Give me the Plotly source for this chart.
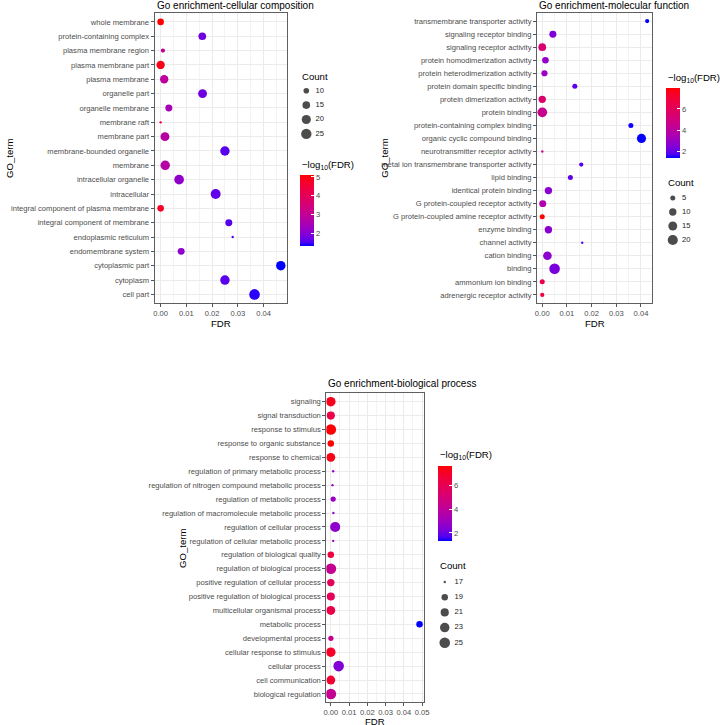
import numpy as np
import plotly.graph_objects as go

# ---------------- DATA ----------------
cats1 = ["whole membrane", "protein-containing complex", "plasma membrane region", "plasma membrane part",
         "plasma membrane", "organelle part", "organelle membrane", "membrane raft", "membrane part",
         "membrane-bounded organelle", "membrane", "intracellular organelle", "intracellular",
         "integral component of plasma membrane", "integral component of membrane", "endoplasmic reticulum",
         "endomembrane system", "cytoplasmic part", "cytoplasm", "cell part"]
fdr1 = [8e-6, 0.0162, 0.0009, 1.2e-5, 0.0014, 0.0163, 0.0032, 3e-5, 0.0017, 0.025, 0.0018, 0.0072,
        0.0214, 1.6e-5, 0.0265, 0.028, 0.008, 0.0467, 0.025, 0.0365]
count1 = [12, 15, 8, 17, 17, 19, 13, 7, 19, 21, 21, 22, 23, 12, 13, 7, 13, 21, 21, 26]

cats2 = ["transmembrane transporter activity", "signaling receptor binding", "signaling receptor activity",
         "protein homodimerization activity", "protein heterodimerization activity",
         "protein domain specific binding", "protein dimerization activity", "protein binding",
         "protein-containing complex binding", "organic cyclic compound binding",
         "neurotransmitter receptor activity", "metal ion transmembrane transporter activity", "lipid binding",
         "identical protein binding", "G protein-coupled receptor activity",
         "G protein-coupled amine receptor activity", "enzyme binding", "channel activity", "cation binding",
         "binding", "ammonium ion binding", "adrenergic receptor activity"]
fdr2 = [0.0425, 0.0043, 5e-6, 0.0013, 0.0009, 0.0132, 3e-6, 3e-5, 0.0359, 0.0402, 3e-5, 0.0158, 0.0114,
        0.0025, 2e-4, 1.2e-8, 0.0025, 0.0162, 0.0021, 0.005, 5e-7, 1.5e-7]
count2 = [4, 9, 11, 8, 7, 5, 10, 18, 5, 16, 3, 4, 5, 10, 9, 5, 10, 3, 14, 22, 5, 4]

cats3 = ["signaling", "signal transduction", "response to stimulus", "response to organic substance",
         "response to chemical", "regulation of primary metabolic process",
         "regulation of nitrogen compound metabolic process", "regulation of metabolic process",
         "regulation of macromolecule metabolic process", "regulation of cellular process",
         "regulation of cellular metabolic process", "regulation of biological quality",
         "regulation of biological process", "positive regulation of cellular process",
         "positive regulation of biological process", "multicellular organismal process", "metabolic process",
         "developmental process", "cellular response to stimulus", "cellular process", "cell communication",
         "biological regulation"]
fdr3 = [5e-8, 5e-7, 2.5e-8, 2.2e-8, 4e-8, 0.0013, 0.0009, 0.0013, 0.0014, 0.0024, 0.0013, 3e-7, 5e-5,
        1.5e-6, 1.5e-6, 5e-7, 0.0486, 5e-5, 1e-7, 0.0043, 1.5e-7, 6e-5]
count3 = [23, 21, 25, 19, 22, 17, 17, 18, 17, 24, 17, 19, 25, 20, 21, 22, 19, 18, 23, 25, 22, 25]

titles = ["Go enrichment-cellular composition", "Go enrichment-molecular function",
          "Go enrichment-biological process"]
xticks1 = [0, 0.01, 0.02, 0.03, 0.04]
xticks2 = [0, 0.01, 0.02, 0.03, 0.04]
xticks3 = [0, 0.01, 0.02, 0.03, 0.04, 0.05]
cbticks1 = [2, 3, 4, 5]
cbticks2 = [2, 4, 6]
cbticks3 = [2, 4, 6]
breaks1 = [10, 15, 20, 25]
breaks2 = [5, 10, 15, 20]
breaks3 = [17, 19, 21, 23, 25]

# ---------------- STYLE HELPERS ----------------
W, H = 720, 725
FONT = "Liberation Sans, Arial, sans-serif"
TICK_SIZE = 7.6
TITLE_SIZE = 9.6


def px(x):
    return x / W


def py(y):
    return 1 - y / H


# Lab interpolation between blue and red (like ggplot's scale_colour_gradient)
_M = np.array([[0.4124564, 0.3575761, 0.1804375],
               [0.2126729, 0.7151522, 0.0721750],
               [0.0193339, 0.1191920, 0.9503041]])
_Minv = np.linalg.inv(_M)
_WHITE = np.array([0.95047, 1.0, 1.08883])


def _to_lab(hexc):
    rgb = np.array([int(hexc[i:i + 2], 16) / 255 for i in (1, 3, 5)])
    lin = np.where(rgb <= 0.04045, rgb / 12.92, ((rgb + 0.055) / 1.055) ** 2.4)
    xyz = _M @ lin / _WHITE
    d = 6 / 29
    f = np.where(xyz > d ** 3, np.cbrt(xyz), xyz / (3 * d * d) + 4 / 29)
    return np.array([116 * f[1] - 16, 500 * (f[0] - f[1]), 200 * (f[1] - f[2])])


def _from_lab(lab):
    L, a, b = lab
    fy = (L + 16) / 116
    fx = fy + a / 500
    fz = fy - b / 200
    d = 6 / 29
    f = np.array([fx, fy, fz])
    xyz = np.where(f > d, f ** 3, 3 * d * d * (f - 4 / 29)) * _WHITE
    lin = _Minv @ xyz
    lin = np.clip(lin, 0, 1)
    rgb = np.where(lin <= 0.0031308, 12.92 * lin, 1.055 * lin ** (1 / 2.4) - 0.055)
    rgb = np.clip(rgb, 0, 1)
    return "rgb({},{},{})".format(*[int(round(v * 255)) for v in rgb])


_lo, _hi = _to_lab("#0000FF"), _to_lab("#FF0000")
COLORSCALE = [[t, _from_lab(_lo + (_hi - _lo) * t)] for t in np.linspace(0, 1, 21)]


def diam(c, cmin, cmax):
    c = np.asarray(c, dtype=float)
    s = 1 + 5 * np.sqrt((c - cmin) / (cmax - cmin))
    return 1.65 * s + 0.7


panels = [
    dict(cats=cats1, fdr=fdr1, count=count1, xticks=xticks1, cbticks=cbticks1, breaks=breaks1,
         box=(153.3, 287, 13.3, 303), cb=(300, 175, 246), cbtitle=(300, 165),
         leg=(300, 76, 90.7, 14.4, 6.7, 16.0), title=(153.3, 5), gotitle=(6, 158), fdrtitle=323),
    dict(cats=cats2, fdr=fdr2, count=count2, xticks=xticks2, cbticks=cbticks2, breaks=breaks2,
         box=(540, 656.7, 13.3, 302.7), cb=(670.7, 88.3, 158.3), cbtitle=(670, 78),
         leg=(670, 182.7, 198, 14, 7.3, 16.7), title=(540, 5), gotitle=(385, 158), fdrtitle=323),
    dict(cats=cats3, fdr=fdr3, count=count3, xticks=xticks3, cbticks=cbticks3, breaks=breaks3,
         box=(327, 425.7, 393.3, 702.3), cb=(440, 466, 541), cbtitle=(440, 455),
         leg=(440, 565, 582, 15.2, 6.7, 16.5), title=(327, 383.5), gotitle=(181, 548), fdrtitle=721.5),
]

fig = go.Figure()
layout = dict(width=W, height=H, margin=dict(l=0, r=0, t=0, b=0), paper_bgcolor="white",
              plot_bgcolor="white", showlegend=False, font=dict(family=FONT))
annotations = []

for i, p in enumerate(panels, start=1):
    sfx = "" if i == 1 else str(i)
    fdr = np.array(p["fdr"])
    nl = -np.log10(fdr)
    cnt = np.array(p["count"])
    cmin, cmax = cnt.min(), cnt.max()
    x0, x1, y0, y1 = p["box"]
    span = fdr.max() - fdr.min()
    xr = [fdr.min() - 0.05 * span, fdr.max() + 0.05 * span]
    n = len(p["cats"])

    fig.add_trace(go.Scatter(
        x=fdr, y=p["cats"], mode="markers", xaxis="x" + sfx, yaxis="y" + sfx,
        marker=dict(size=diam(cnt, cmin, cmax), color=nl, coloraxis="coloraxis" + sfx,
                    line=dict(width=0), opacity=1),
        hovertemplate="%{y}<br>FDR=%{x}<extra></extra>"))

    layout["xaxis" + sfx] = dict(
        domain=[px(x0), px(x1)], anchor="y" + sfx, range=xr, tickvals=p["xticks"], tickformat=".2f",
        showgrid=True, gridcolor="#EBEBEB", gridwidth=1, zeroline=False,
        minor=dict(dtick=0.005, tick0=0, showgrid=True, gridcolor="#F3F3F3", gridwidth=0.6),
        showline=True, mirror=True, linecolor="#5f5f5f", linewidth=1,
        ticks="outside", ticklen=3, tickcolor="#555555", tickwidth=1,
        tickfont=dict(size=TICK_SIZE, color="#4D4D4D", family=FONT), fixedrange=True)
    layout["yaxis" + sfx] = dict(
        domain=[py(y1), py(y0)], anchor="x" + sfx, type="category",
        categoryorder="array", categoryarray=list(reversed(p["cats"])), range=[-0.6, n - 0.4],
        showgrid=True, gridcolor="#EBEBEB", gridwidth=1, zeroline=False,
        showline=True, mirror=True, linecolor="#5f5f5f", linewidth=1,
        ticks="outside", ticklen=3, tickcolor="#555555", tickwidth=1,
        tickfont=dict(size=TICK_SIZE, color="#4D4D4D", family=FONT), fixedrange=True)

    cbx, cby0, cby1 = p["cb"]
    layout["coloraxis" + sfx] = dict(
        colorscale=COLORSCALE, cmin=nl.min(), cmax=nl.max(),
        colorbar=dict(x=px(cbx), xanchor="left", y=py((cby0 + cby1) / 2), yanchor="middle",
                      len=cby1 - cby0, lenmode="pixels", thickness=14, thicknessmode="pixels",
                      outlinewidth=0, xpad=0, ypad=0, tickvals=p["cbticks"], ticks="inside",
                      ticklen=3, tickcolor="white", tickwidth=1,
                      tickfont=dict(size=TICK_SIZE, color="#4D4D4D", family=FONT)))

    # Count legend on hidden axes
    lx, lty, ly0, lsp, dotx, labx = p["leg"]
    nb = len(p["breaks"])
    ax_i = 3 + i
    layout["xaxis%d" % ax_i] = dict(domain=[px(lx), px(lx + 40)], range=[0, 40], visible=False,
                                   fixedrange=True, anchor="y%d" % ax_i)
    layout["yaxis%d" % ax_i] = dict(domain=[py(ly0 + (nb - 0.5) * lsp), py(ly0 - 0.5 * lsp)],
                                   range=[nb - 0.5, -0.5], visible=False, fixedrange=True,
                                   anchor="x%d" % ax_i)
    idx = list(range(nb))
    fig.add_trace(go.Scatter(
        x=[dotx] * nb, y=idx, mode="markers", xaxis="x%d" % ax_i, yaxis="y%d" % ax_i,
        marker=dict(size=diam(p["breaks"], cmin, cmax), color="black", line=dict(width=0)),
        hoverinfo="skip"))
    fig.add_trace(go.Scatter(
        x=[labx] * nb, y=idx, mode="text", text=[str(b) for b in p["breaks"]],
        textposition="middle right", xaxis="x%d" % ax_i, yaxis="y%d" % ax_i,
        textfont=dict(size=TICK_SIZE, color="#222222", family=FONT), hoverinfo="skip"))

    annotations += [
        dict(text="Count", x=px(lx), y=py(lty), xref="paper", yref="paper", xanchor="left",
             yanchor="middle", showarrow=False, font=dict(size=TITLE_SIZE, color="black", family=FONT)),
        dict(text="\u2212log<sub>10</sub>(FDR)", x=px(p["cbtitle"][0]), y=py(p["cbtitle"][1]),
             xref="paper", yref="paper", xanchor="left", yanchor="middle", showarrow=False,
             font=dict(size=TITLE_SIZE, color="black", family=FONT)),
        dict(text=titles[i - 1], x=px(p["title"][0]), y=py(p["title"][1]), xref="paper", yref="paper",
             xanchor="left", yanchor="middle", showarrow=False,
             font=dict(size=TITLE_SIZE + 0.4, color="black", family=FONT)),
        dict(text="FDR", x=px((x0 + x1) / 2), y=py(p["fdrtitle"]), xref="paper", yref="paper",
             xanchor="center", yanchor="middle", showarrow=False,
             font=dict(size=TITLE_SIZE, color="black", family=FONT)),
        dict(text="GO_term", x=px(p["gotitle"][0]), y=py(p["gotitle"][1]), xref="paper", yref="paper",
             xanchor="center", yanchor="middle", textangle=-90, showarrow=False,
             font=dict(size=TITLE_SIZE, color="black", family=FONT)),
    ]

layout["annotations"] = annotations
fig.update_layout(**layout)
fig.write_html("out.html", config={"displayModeBar": False},
               post_script="document.body.style.margin='0';")
